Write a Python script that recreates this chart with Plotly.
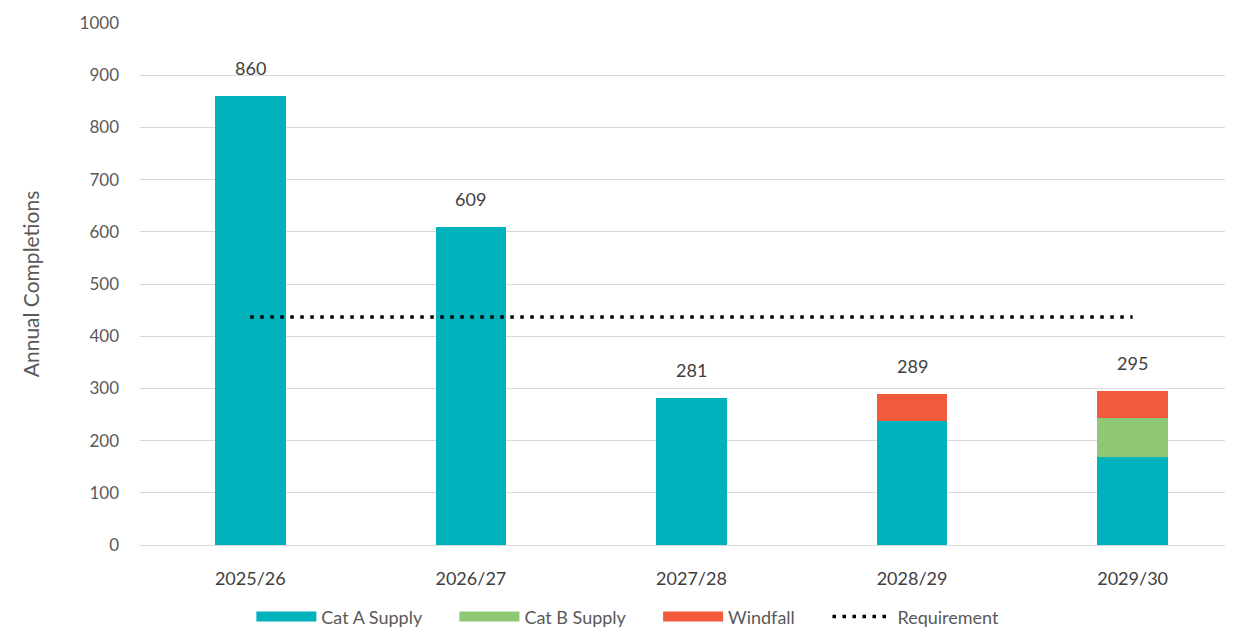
import plotly.graph_objects as go

years = ["2025/26", "2026/27", "2027/28", "2028/29", "2029/30"]
cat_a = [860, 609, 281, 237, 169]
cat_b = [0, 0, 0, 0, 74]
windfall = [0, 0, 0, 52, 52]
totals = [860, 609, 281, 289, 295]
requirement = [437, 437, 437, 437, 437]

TEAL = "#00B2BC"
GREEN = "#8EC875"
RED = "#F15A3A"
FONT = "Lato"
PAD = "\u00a0" * 6  # extra room between legend entries

fig = go.Figure()

for name, vals, color in [("Cat A Supply", cat_a, TEAL),
                          ("Cat B Supply", cat_b, GREEN),
                          ("Windfall", windfall, RED)]:
    fig.add_trace(go.Bar(x=years, y=vals, name=name, marker_color=color,
                         marker_line_width=0, width=0.32, showlegend=False))

fig.add_trace(go.Scatter(x=years, y=requirement, mode="lines", name="Requirement",
                         line=dict(color="black", width=3.5, dash="3.5px,6.5px"),
                         showlegend=False))

# legend entries (wide swatches like the original)
for name, color in [("Cat A Supply", TEAL), ("Cat B Supply", GREEN), ("Windfall", RED)]:
    fig.add_trace(go.Scatter(x=[None], y=[None], mode="lines", name=name + PAD,
                             line=dict(color=color, width=14)))
fig.add_trace(go.Scatter(x=[None], y=[None], mode="lines", name="Requirement",
                         line=dict(color="black", width=3.5, dash="3.5px,6.5px")))

for x, t in zip(years, totals):
    fig.add_annotation(x=x, y=t, text=str(t), showarrow=False, yshift=28,
                       font=dict(size=18, color="#404040", family=FONT))

# page body has an 8px margin, so the figure is sized to fit inside it
fig.update_layout(
    barmode="stack",
    width=1225, height=620,
    margin=dict(l=132, r=0, t=15, b=83, autoexpand=False),
    plot_bgcolor="white", paper_bgcolor="white",
    font=dict(family=FONT, size=17, color="#595959"),
    legend=dict(orientation="h", xref="container", yref="container",
                x=0.506, xanchor="center", y=0.018, yanchor="middle",
                itemwidth=60, font=dict(size=18, color="#595959"),
                traceorder="normal"),
)
fig.update_xaxes(range=[-0.5, 4.455], showgrid=False, showline=True,
                 linecolor="#D9D9D9", linewidth=1, ticks="",
                 ticklabelstandoff=17, tickfont=dict(size=18, color="#404040"))
fig.update_yaxes(range=[0, 1000], dtick=100, showgrid=True, gridcolor="#D9D9D9",
                 gridwidth=1, zeroline=False, showline=False,
                 ticklabelstandoff=20, tickfont=dict(size=17, color="#595959"),
                 title=dict(text="Annual Completions", standoff=34,
                            font=dict(size=21, color="#595959")))

fig.write_html("out.html")
